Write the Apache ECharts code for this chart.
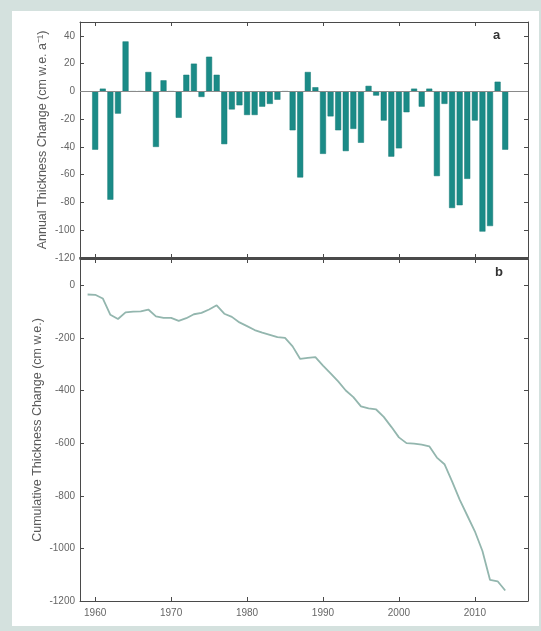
<!DOCTYPE html>
<html>
<head>
<meta charset="utf-8">
<script src="https://cdn.jsdelivr.net/npm/echarts@6/dist/echarts.min.js"></script>
<style>
html,body{margin:0;padding:0;background:#d4e1de;}
#wrap{position:relative;width:541px;height:631px;background:#d4e1de;overflow:hidden;}
#panel{position:absolute;left:12px;top:11px;width:527px;height:615px;background:#ffffff;}
#chart{position:absolute;left:0;top:0;width:541px;height:631px;}
</style>
</head>
<body>
<div id="wrap"><div id="panel"></div><div id="chart"></div></div>
<script>
// Annual thickness change (cm w.e. a^-1), one bar per year
const years = [1960,1961,1962,1963,1964,1965,1966,1967,1968,1969,1970,1971,1972,1973,1974,1975,1976,1977,1978,1979,
  1980,1981,1982,1983,1984,1985,1986,1987,1988,1989,1990,1991,1992,1993,1994,1995,1996,1997,1998,1999,
  2000,2001,2002,2003,2004,2005,2006,2007,2008,2009,2010,2011,2012,2013,2014];
const annualChange = [-42,2,-78,-16,36,0,0,14,-40,8,0,-19,12,20,-4,25,12,-38,-13,-10,
  -17,-17,-11,-9,-6,0,-28,-62,14,3,-45,-18,-28,-43,-27,-37,4,-3,-21,-47,
  -41,-15,2,-11,2,-61,-9,-84,-82,-63,-21,-101,-97,7,-42];

// Cumulative thickness change (cm w.e.)
const cumYears = [1959,1960,1961,1962,1963,1964,1965,1966,1967,1968,1969,1970,1971,1972,1973,1974,1975,1976,1977,1978,1979,
  1980,1981,1982,1983,1984,1985,1986,1987,1988,1989,1990,1991,1992,1993,1994,1995,1996,1997,1998,1999,
  2000,2001,2002,2003,2004,2005,2006,2007,2008,2009,2010,2011,2012,2013,2014];
const cumulativeChange = [-35,-36,-50,-112,-128,-103,-100,-99,-92,-118,-124,-124,-135,-125,-110,-105,-92,-76,-108,-120,-141,
  -155,-170,-180,-188,-197,-200,-232,-280,-276,-273,-305,-335,-365,-400,-425,-460,-468,-472,-500,-538,
  -578,-600,-602,-606,-612,-655,-680,-745,-815,-875,-935,-1010,-1120,-1125,-1160];

const xTicks = [1960,1970,1980,1990,2000,2010];
const annualTicks = [-120,-100,-80,-60,-40,-20,0,20,40];
const cumulativeTicks = [-1200,-1000,-800,-600,-400,-200,0];

const chart = echarts.init(document.getElementById('chart'), null, {renderer:'canvas'});
const axisColor = '#4a4a4a';
const labelColor = '#666666';
const font = 'Liberation Sans, Arial, sans-serif';
const plain = v => String(v);

function xAx(grid, pos, showLabels, lw) {
  return {
    type:'value', gridIndex:grid, position:pos, min:1958, max:2017,
    axisLine:{show:true, onZero:false, lineStyle:{color:axisColor, width:lw || 1}},
    axisTick:{show:true, inside:true, length:4, customValues:xTicks, lineStyle:{color:axisColor}},
    axisLabel:{show:showLabels, customValues:xTicks, formatter:plain, color:labelColor, fontSize:10, fontFamily:font, margin:7},
    splitLine:{show:false}
  };
}
function yAx(grid, pos, min, max, ticks, showLabels, name, gap) {
  return {
    type:'value', gridIndex:grid, position:pos, min:min, max:max,
    name: name || '', nameLocation:'middle', nameGap: gap || 0, nameMoveOverlap:false,
    nameTextStyle:{color:'#5a5a5a', fontSize:12.5, fontFamily:font},
    axisLine:{show:true, onZero:false, lineStyle:{color:axisColor, width:1}},
    axisTick:{show:true, inside:true, length:4, customValues:ticks, lineStyle:{color:axisColor}},
    axisLabel:{show:showLabels, customValues:ticks, formatter:plain, color:labelColor, fontSize:10, fontFamily:font, margin:5},
    splitLine:{show:false}
  };
}

chart.setOption({
  animation:false,
  backgroundColor:'transparent',
  grid:[
    {left:80, top:22, width:448, height:236, show:false},
    {left:80, top:259, width:448, height:342, show:false}
  ],
  xAxis:[
    xAx(0,'bottom',false,2), xAx(0,'top',false),
    xAx(1,'bottom',true), xAx(1,'top',false)
  ],
  yAxis:[
    yAx(0,'left',-120,50,annualTicks,true,'Annual Thickness Change (cm w.e. a\u207B\u00B9)',31),
    yAx(0,'right',-120,50,annualTicks,false),
    yAx(1,'left',-1200,100,cumulativeTicks,true,'Cumulative Thickness Change (cm w.e.)',36),
    yAx(1,'right',-1200,100,cumulativeTicks,false)
  ],
  graphic:[
    {type:'text', left:493, top:29, style:{text:'a', font:'bold 13px Liberation Sans, Arial, sans-serif', fill:'#333'}},
    {type:'text', left:495, top:266, style:{text:'b', font:'bold 13px Liberation Sans, Arial, sans-serif', fill:'#333'}}
  ],
  series:[
    {
      type:'bar', xAxisIndex:0, yAxisIndex:0, barWidth:6,
      data: years.map((y,i)=>[y, annualChange[i]]),
      itemStyle:{color:'#1b8b87', borderColor:'#177a76', borderWidth:0.5},
      markLine:{silent:true, symbol:'none', label:{show:false},
        lineStyle:{color:'#8a8a8a', width:1, type:'solid'}, data:[{yAxis:0}]}
    },
    {
      type:'line', xAxisIndex:2, yAxisIndex:2, showSymbol:false,
      data: cumYears.map((y,i)=>[y, cumulativeChange[i]]),
      lineStyle:{color:'#93b6ae', width:1.8}
    }
  ]
});
</script>
</body>
</html>
